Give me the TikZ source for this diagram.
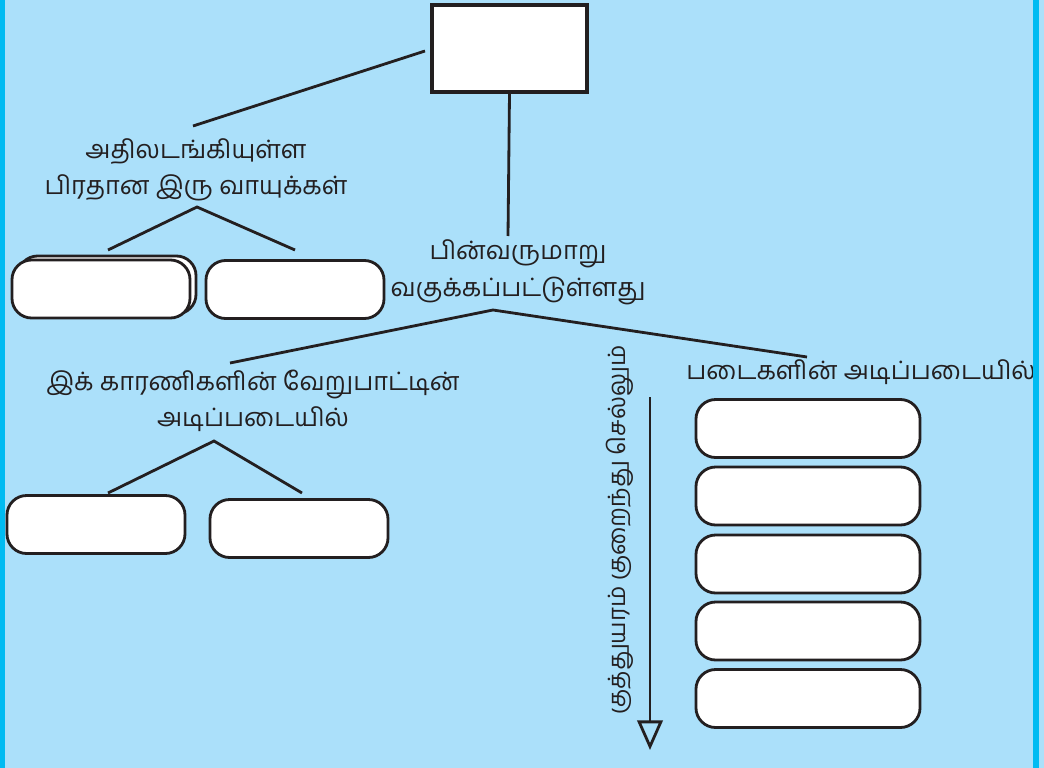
\documentclass[tikz,border=0pt]{standalone}
\usepackage{fontspec}
\newfontfamily\tamilfont[Script=Tamil]{Hind Madurai}
\usetikzlibrary{arrows.meta, positioning}
\definecolor{skyfill}{HTML}{ABE0FA}
\definecolor{cyanedge}{HTML}{00BBF2}
\definecolor{inkline}{HTML}{231F20}

\begin{document}
\begin{tikzpicture}[x=0.025cm,y=-0.025cm,
  lbl/.style={font=\tamilfont\fontsize{18}{26}\selectfont,align=center,
              text=inkline,inner sep=0pt},
  pill/.style={draw=inkline,line width=2pt,fill=white,rounded corners=14pt,
               minimum width=4.45cm,minimum height=1.45cm,inner sep=0pt},
  link/.style={draw=inkline,line width=2pt}]
  % page: 1044 x 768 px, 1px = 0.025cm
  \useasboundingbox (0,0) rectangle (1044,768);
  \fill[skyfill] (0,0) rectangle (1044,768);

  % top box
  \node[draw=inkline,line width=2.2pt,fill=white,minimum width=3.875cm,
        minimum height=2.175cm,inner sep=0pt] (topbox) at (509.5,48.5) {};

  % labels
  \node[lbl] (gasLbl) at (196,170) {அதிலடங்கியுள்ள\\பிரதான இரு வாயுக்கள்};
  \node[lbl] (classLbl) at (518,272) {பின்வருமாறு\\வகுக்கப்பட்டுள்ளது};
  \node[lbl] (factorLbl) at (253,401) {இக் காரணிகளின் வேறுபாட்டின்\\அடிப்படையில்};
  \node[lbl] (layerLbl) at (861,372) {படைகளின் அடிப்படையில்};
  \node[lbl,font=\tamilfont\fontsize{17}{26}\selectfont,rotate=90]
    (heightLbl) at (620,530) {குத்துயரம் குறைந்து செல்லும்};

  % gas boxes (left one doubled)
  \node[pill] (gasBack) at (107,285) {};
  \node[pill] (gasA) at (101,289) {};
  \node[pill] (gasB) at (295,289.5) {};
  % factor boxes
  \node[pill] (factA) at (96,524.5) {};
  \node[pill] (factB) at (299,528.5) {};
  % layer boxes
  \foreach \i/\yc in {1/428.5,2/496,3/564,4/631,5/698.5}{
    \node[pill,minimum width=5.6cm] (lay\i) at (808,\yc) {};
  }

  % connectors
  \coordinate (topL) at (425,51);
  \coordinate (gasTop) at (193,126);
  \coordinate (gasFork) at (197,207);
  \coordinate (gasEndA) at (108,250);
  \coordinate (gasEndB) at (295,250);
  \coordinate (classTop) at (508,236);
  \coordinate (classFork) at (493,310);
  \coordinate (factorTop) at (230,363);
  \coordinate (layerTop) at (807,357);
  \coordinate (factFork) at (214,441);
  \coordinate (factEndA) at (108,493);
  \coordinate (factEndB) at (302,493);
  \draw[link] (topL) -- (gasTop);
  \draw[link] (topbox.south) -- (classTop);
  \draw[link] (gasEndA) -- (gasFork) -- (gasEndB);
  \draw[link] (factorTop) -- (classFork) -- (layerTop);
  \draw[link] (factEndA) -- (factFork) -- (factEndB);

  % height arrow
  \coordinate (arrTop) at (650,397);
  \coordinate (arrBot) at (650,750);
  \draw[link,-{Triangle[open,length=21pt,width=18pt]}] (arrTop) -- (arrBot);

  % side strips
  \fill[cyanedge] (0,0) rectangle (5,768);
  \fill[cyanedge] (1033,0) rectangle (1039,768);
\end{tikzpicture}
\end{document}
